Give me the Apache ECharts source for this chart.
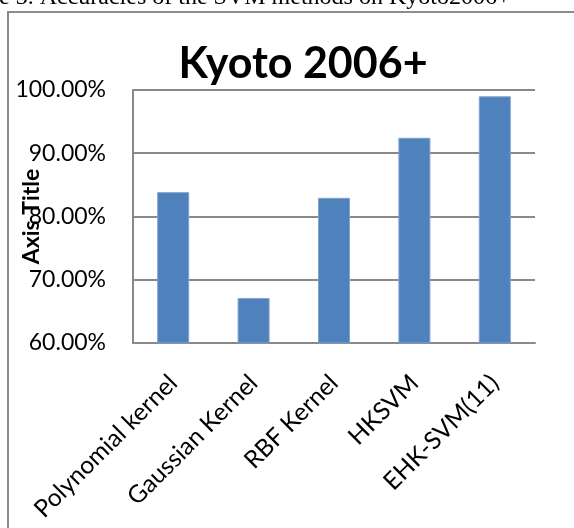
<!DOCTYPE html>
<html>
<head>
    <meta charset="utf-8">
    <script src="https://cdn.jsdelivr.net/npm/echarts@6/dist/echarts.min.js"></script>
    <style>
        html, body { margin: 0; padding: 0; background: #fff; }
    </style>
</head>
<body>
<div id="main" style="width: 574px;height:528px;"></div>

<script type="text/javascript">
    // data
    var categories = ['Polynomial kernel', 'Gaussian Kernel', 'RBF Kernel', 'HKSVM', 'EHK-SVM(11)'];
    var accuracy = [0.8385, 0.671, 0.8295, 0.9245, 0.990];
    var yTicks = [0.6, 0.7, 0.8, 0.9, 1.0];

    var font = 'Lato, "Open Sans", sans-serif';
    var gridGray = '#898989';

    var myChart = echarts.init(document.getElementById('main'));

    var option = {
        animation: false,
        backgroundColor: '#fff',
        title: {
            text: 'Kyoto 2006+',
            left: 298,
            textAlign: 'center',
            top: 38,
            textStyle: { fontFamily: font, fontWeight: 'bold', fontSize: 43, color: '#000' }
        },
        graphic: [
            {
                type: 'rect',
                shape: { x: 8, y: 12, width: 700, height: 700 },
                style: { fill: 'none', stroke: '#8c8c8c', lineWidth: 2 }
            },
            {
                // caption of the page, cut by the picture's top edge
                type: 'text',
                x: -1, y: 10,
                style: {
                    text: 'e 3. Accuracies of the SVM methods on Kyoto2006+',
                    fontFamily: '"Liberation Serif", serif',
                    fontSize: 24,
                    verticalAlign: 'bottom',
                    fill: '#000'
                }
            }
        ],
        grid: { left: 133, right: 39, top: 90, bottom: 185, outerBoundsMode: 'none' },
        xAxis: {
            type: 'category',
            data: categories,
            axisLine: { lineStyle: { color: gridGray, width: 2 } },
            axisTick: { show: false },
            axisLabel: {
                interval: 0,
                rotate: 45,
                margin: 36,
                fontFamily: font,
                fontSize: 24.5,
                color: '#000'
            }
        },
        yAxis: {
            type: 'value',
            min: yTicks[0],
            max: yTicks[yTicks.length - 1],
            interval: 0.1,
            name: 'Axis Title',
            nameLocation: 'middle',
            nameGap: 90,
            nameMoveOverlap: false,
            nameTextStyle: { fontFamily: font, fontWeight: 'bold', fontSize: 23, color: '#000' },
            axisLine: { show: true, lineStyle: { color: gridGray, width: 2 } },
            axisTick: { show: false },
            splitLine: { lineStyle: { color: gridGray, width: 2 } },
            axisLabel: {
                margin: 27,
                fontFamily: font,
                fontSize: 23,
                color: '#000',
                formatter: function (v) { return (v * 100).toFixed(2) + '%'; }
            }
        },
        series: [{
            type: 'bar',
            data: accuracy,
            barWidth: 32,
            itemStyle: { color: '#4f81bd', borderColor: '#7fa2cf', borderWidth: 1 }
        }]
    };

    myChart.setOption(option);
</script>
</body>
</html>
